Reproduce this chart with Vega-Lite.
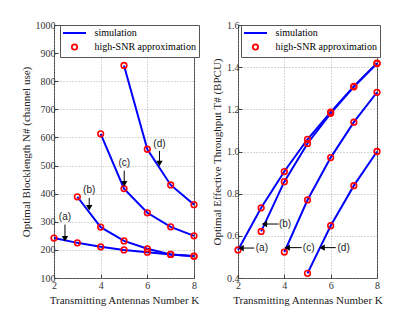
{
  "$schema": "https://vega.github.io/schema/vega-lite/v6.json",
  "padding": {"left": 19, "top": 19, "right": 5, "bottom": 5},
  "background": "white",
  "spacing": 10,
  "datasets": {
    "N": [
      {"s": "a", "K": 2, "v": 242}, {"s": "a", "K": 3, "v": 225}, {"s": "a", "K": 4, "v": 211}, {"s": "a", "K": 5, "v": 200}, {"s": "a", "K": 6, "v": 192}, {"s": "a", "K": 7, "v": 184}, {"s": "a", "K": 8, "v": 177},
      {"s": "b", "K": 3, "v": 389}, {"s": "b", "K": 4, "v": 281}, {"s": "b", "K": 5, "v": 232}, {"s": "b", "K": 6, "v": 204}, {"s": "b", "K": 7, "v": 184}, {"s": "b", "K": 8, "v": 178},
      {"s": "c", "K": 4, "v": 613}, {"s": "c", "K": 5, "v": 418}, {"s": "c", "K": 6, "v": 332}, {"s": "c", "K": 7, "v": 282}, {"s": "c", "K": 8, "v": 250},
      {"s": "d", "K": 5, "v": 856}, {"s": "d", "K": 6, "v": 558}, {"s": "d", "K": 7, "v": 431}, {"s": "d", "K": 8, "v": 361}
    ],
    "T": [
      {"s": "a", "K": 2, "v": 0.533}, {"s": "a", "K": 3, "v": 0.733}, {"s": "a", "K": 4, "v": 0.905}, {"s": "a", "K": 5, "v": 1.058}, {"s": "a", "K": 6, "v": 1.187}, {"s": "a", "K": 7, "v": 1.309}, {"s": "a", "K": 8, "v": 1.419},
      {"s": "b", "K": 3, "v": 0.621}, {"s": "b", "K": 4, "v": 0.857}, {"s": "b", "K": 5, "v": 1.038}, {"s": "b", "K": 6, "v": 1.181}, {"s": "b", "K": 7, "v": 1.307}, {"s": "b", "K": 8, "v": 1.417},
      {"s": "c", "K": 4, "v": 0.523}, {"s": "c", "K": 5, "v": 0.77}, {"s": "c", "K": 6, "v": 0.971}, {"s": "c", "K": 7, "v": 1.139}, {"s": "c", "K": 8, "v": 1.281},
      {"s": "d", "K": 5, "v": 0.422}, {"s": "d", "K": 6, "v": 0.648}, {"s": "d", "K": 7, "v": 0.838}, {"s": "d", "K": 8, "v": 1.0}
    ],
    "Narr": [
      {"x": 2.47, "y": 290, "x2": 2.47, "y2": 240},
      {"x": 3.51, "y": 385, "x2": 3.51, "y2": 350},
      {"x": 5.01, "y": 482, "x2": 5.01, "y2": 435},
      {"x": 6.52, "y": 552, "x2": 6.52, "y2": 507}
    ],
    "Nlab": [
      {"x": 2.47, "y": 318, "t": "(a)"},
      {"x": 3.51, "y": 414, "t": "(b)"},
      {"x": 5.01, "y": 508, "t": "(c)"},
      {"x": 6.52, "y": 576, "t": "(d)"}
    ],
    "Tarr": [
      {"x": 2.7, "y": 0.542, "x2": 2.13, "y2": 0.542},
      {"x": 3.75, "y": 0.656, "x2": 3.14, "y2": 0.656},
      {"x": 4.75, "y": 0.544, "x2": 4.12, "y2": 0.544},
      {"x": 6.22, "y": 0.544, "x2": 5.63, "y2": 0.544}
    ],
    "Tlab": [
      {"x": 3.03, "y": 0.542, "t": "(a)"},
      {"x": 4.03, "y": 0.656, "t": "(b)"},
      {"x": 5.05, "y": 0.544, "t": "(c)"},
      {"x": 6.56, "y": 0.544, "t": "(d)"}
    ]
  },
  "hconcat": [
    {
      "width": 140,
      "height": 253,
      "layer": [
        {
          "data": {"name": "N"},
          "mark": {"type": "line", "strokeWidth": 2},
          "encoding": {
            "x": {"field": "K", "type": "quantitative", "scale": {"domain": [2, 8], "nice": false}, "axis": {"values": [2, 4, 6, 8], "tickCount": 4, "labelOverlap": false, "labelPadding": 6, "title": "Transmitting Antennas Number  K"}},
            "y": {"field": "v", "type": "quantitative", "scale": {"domain": [100, 1000], "nice": false}, "axis": {"values": [100, 200, 300, 400, 500, 600, 700, 800, 900, 1000], "format": "d", "tickCount": 10, "labelOverlap": false, "title": "Optimal Blocklength  N# (channel use)"}},
            "detail": {"field": "s"},
            "color": {"datum": "simulation", "scale": {"domain": ["simulation", "high-SNR approximation"], "range": ["#0000ff", "#ff0000"]},
              "legend": {"orient": "none", "legendX": 6, "legendY": 0, "title": null, "strokeColor": "#555", "fillColor": "white", "padding": 3, "rowPadding": 2, "symbolSize": 100, "symbolOffset": 6.5, "labelOffset": 15, "labelFont": "Liberation Serif", "labelFontSize": 10, "labelColor": "black",
                "encode": {"symbols": {"update": {
                  "shape": {"signal": "datum.value === 'simulation' ? 'M-1.15,0H1.15' : 'circle'"},
                  "size": {"signal": "datum.value === 'simulation' ? 400 : 28"},
                  "strokeWidth": {"signal": "datum.value === 'simulation' ? 2 : 1.8"},
                  "fill": {"value": "transparent"},
                  "stroke": {"signal": "datum.value === 'simulation' ? '#0000ff' : '#ff0000'"}
                }}}}}
          }
        },
        {
          "data": {"name": "N"},
          "mark": {"type": "point", "filled": false, "strokeWidth": 1.6, "size": 32, "opacity": 1},
          "encoding": {
            "x": {"field": "K", "type": "quantitative"},
            "y": {"field": "v", "type": "quantitative"},
            "color": {"datum": "high-SNR approximation"}
          }
        },
        {
          "data": {"name": "Narr"},
          "mark": {"type": "rule", "color": "black", "strokeWidth": 1},
          "encoding": {
            "x": {"field": "x", "type": "quantitative"},
            "y": {"field": "y", "type": "quantitative"},
            "x2": {"field": "x2"},
            "y2": {"field": "y2"}
          }
        },
        {
          "data": {"name": "Narr"},
          "mark": {"type": "point", "shape": "triangle-down", "filled": true, "color": "black", "size": 40, "opacity": 1},
          "encoding": {
            "x": {"field": "x2", "type": "quantitative"},
            "y": {"field": "y2", "type": "quantitative"}
          }
        },
        {
          "data": {"name": "Nlab"},
          "mark": {"type": "text", "font": "Liberation Sans", "fontSize": 10, "color": "#222"},
          "encoding": {
            "x": {"field": "x", "type": "quantitative"},
            "y": {"field": "y", "type": "quantitative"},
            "text": {"field": "t"}
          }
        }
      ]
    },
    {
      "width": 139,
      "height": 253,
      "layer": [
        {
          "data": {"name": "T"},
          "mark": {"type": "line", "strokeWidth": 2},
          "encoding": {
            "x": {"field": "K", "type": "quantitative", "scale": {"domain": [2, 8], "nice": false}, "axis": {"values": [2, 4, 6, 8], "tickCount": 4, "labelOverlap": false, "labelPadding": 6, "title": "Transmitting Antennas Number  K"}},
            "y": {"field": "v", "type": "quantitative", "scale": {"domain": [0.4, 1.6], "nice": false}, "axis": {"values": [0.4, 0.6, 0.8, 1, 1.2, 1.4, 1.6], "tickCount": 7, "labelOverlap": false, "title": "Optimal Effective Throughput  T# (BPCU)"}},
            "detail": {"field": "s"},
            "color": {"datum": "simulation", "scale": {"domain": ["simulation", "high-SNR approximation"], "range": ["#0000ff", "#ff0000"]},
              "legend": {"orient": "none", "legendX": 3, "legendY": 0, "title": null, "strokeColor": "#555", "fillColor": "white", "padding": 3, "rowPadding": 2, "symbolSize": 100, "symbolOffset": 6.5, "labelOffset": 15, "labelFont": "Liberation Serif", "labelFontSize": 10, "labelColor": "black",
                "encode": {"symbols": {"update": {
                  "shape": {"signal": "datum.value === 'simulation' ? 'M-1.15,0H1.15' : 'circle'"},
                  "size": {"signal": "datum.value === 'simulation' ? 400 : 28"},
                  "strokeWidth": {"signal": "datum.value === 'simulation' ? 2 : 1.8"},
                  "fill": {"value": "transparent"},
                  "stroke": {"signal": "datum.value === 'simulation' ? '#0000ff' : '#ff0000'"}
                }}}}}
          }
        },
        {
          "data": {"name": "T"},
          "mark": {"type": "point", "filled": false, "strokeWidth": 1.6, "size": 32, "opacity": 1},
          "encoding": {
            "x": {"field": "K", "type": "quantitative"},
            "y": {"field": "v", "type": "quantitative"},
            "color": {"datum": "high-SNR approximation"}
          }
        },
        {
          "data": {"name": "Tarr"},
          "mark": {"type": "rule", "color": "black", "strokeWidth": 1},
          "encoding": {
            "x": {"field": "x", "type": "quantitative"},
            "y": {"field": "y", "type": "quantitative"},
            "x2": {"field": "x2"},
            "y2": {"field": "y2"}
          }
        },
        {
          "data": {"name": "Tarr"},
          "mark": {"type": "point", "shape": "triangle-left", "filled": true, "color": "black", "size": 40, "opacity": 1},
          "encoding": {
            "x": {"field": "x2", "type": "quantitative"},
            "y": {"field": "y2", "type": "quantitative"}
          }
        },
        {
          "data": {"name": "Tlab"},
          "mark": {"type": "text", "font": "Liberation Sans", "fontSize": 10, "color": "#222"},
          "encoding": {
            "x": {"field": "x", "type": "quantitative"},
            "y": {"field": "y", "type": "quantitative"},
            "text": {"field": "t"}
          }
        }
      ]
    }
  ],
  "resolve": {"scale": {"color": "independent"}, "legend": {"color": "independent"}},
  "config": {
    "font": "Liberation Serif",
    "view": {"stroke": "#444", "strokeWidth": 1},
    "axis": {
      "labelFont": "Liberation Serif", "labelFontSize": 10, "labelColor": "#333", "labelFlush": false,
      "titleFont": "Liberation Serif", "titleFontSize": 11, "titleFontWeight": "normal", "titleColor": "#222",
      "domain": false, "tickColor": "#444", "tickSize": -4, "labelPadding": 3,
      "gridColor": "#999", "gridDash": [1, 2], "gridWidth": 0.8, "titlePadding": 4
    }
  }
}
